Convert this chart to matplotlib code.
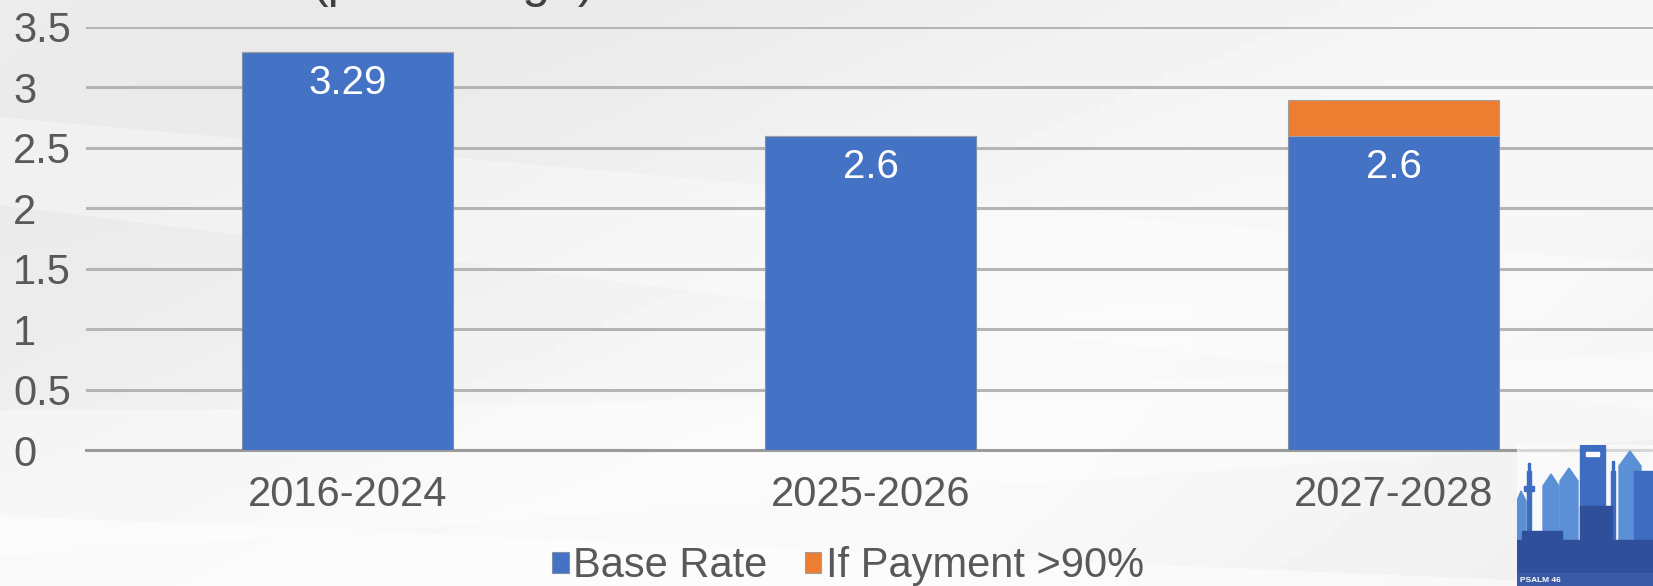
import numpy as np
import matplotlib.pyplot as plt
from matplotlib.patches import Rectangle, Polygon

plt.rcParams['font.family'] = ['Liberation Sans', 'DejaVu Sans']

# data
periods = ['2016-2024', '2025-2026', '2027-2028']
base_rate = [3.29, 2.6, 2.6]
extra_rate = [0, 0, 0.3]
base_labels = ['3.29', '2.6', '2.6']
yticks = [0, 0.5, 1, 1.5, 2, 2.5, 3, 3.5]
ytick_labels = ['0', '0.5', '1', '1.5', '2', '2.5', '3', '3.5']

blue = '#4472C4'
orange = '#ED7D31'
text_gray = '#595959'

fig = plt.figure(figsize=(16.53, 5.86), dpi=100)

# background: very light gray with soft white swooshes
bg = fig.add_axes([0, 0, 1, 1], zorder=-10)
gx, gy = np.meshgrid(np.linspace(0, 1, 200), np.linspace(0, 1, 80))
shade = 0.955 + 0.025 * np.sin(gx * 4.0 - gy * 2.5) - 0.015 * gy
bg.imshow(shade, cmap='gray', vmin=0, vmax=1, extent=[0, 1, 0, 1], aspect='auto', origin='lower')
t = np.linspace(0, 1, 100)
bg.fill_between(t, 0.05 + 0.2 * t, 0.3 + 0.1 * t**2, color='white', alpha=0.4, lw=0)
bg.fill_between(t, 0.65 - 0.35 * t, 0.8 - 0.25 * t, color='white', alpha=0.35, lw=0)
bg.fill_between(t, 0.0, 0.12 * (1 - t), color='white', alpha=0.5, lw=0)
bg.set_xlim(0, 1)
bg.set_ylim(0, 1)
bg.axis('off')

# clipped title (only descenders visible, as in the source slide)
fig.text(312 / 1653, 1 + 3 / 586, '(percentage)', fontsize=36, color='#404040', va='baseline', ha='left')

ax = fig.add_axes([86 / 1653, 1 - 450 / 586, 1569 / 1653, 423 / 586])
ax.patch.set_alpha(0)
x = np.arange(len(periods))
ax.bar(x, base_rate, width=0.405, color=blue, edgecolor='#7f8fa8', linewidth=0.8, zorder=3, label='Base Rate')
ax.bar(x, extra_rate, width=0.405, bottom=base_rate, color=orange, edgecolor='#a0a0a0', linewidth=0.8,
       zorder=3, label='If Payment >90%')
for xi, v, lab in zip(x, base_rate, base_labels):
    ax.text(xi, v - 0.255, lab, ha='center', va='center', color='white', fontsize=29, zorder=4)

ax.set_xlim(-0.5, 2.5)
ax.set_ylim(0, 3.5)
ax.set_yticks(yticks)
ax.set_yticklabels(ytick_labels, ha='left')
ax.yaxis.grid(True, color='#b5b5b5', linewidth=2.2, zorder=0)
ax.set_xticks(x)
ax.set_xticklabels(periods)
ax.tick_params(axis='both', length=0, labelsize=30, labelcolor=text_gray)
ax.tick_params(axis='x', pad=18)
ax.tick_params(axis='y', pad=(86 - 13) * 0.72)
for s in ['top', 'right', 'left']:
    ax.spines[s].set_visible(False)
ax.spines['bottom'].set_color('#9a9a9a')
ax.spines['bottom'].set_linewidth(2.2)

leg = fig.legend(loc='center', bbox_to_anchor=(848 / 1653, 1 - 566 / 586), ncol=2, frameon=False,
                 fontsize=30, handlelength=0.4, handleheight=0.4, handletextpad=0.1,
                 columnspacing=0.9, labelcolor=text_gray, borderpad=0)

# skyline logo in the corner
logo = fig.add_axes([1517 / 1653, 0, 136 / 1653, 141 / 586])
logo.set_xlim(0, 136)
logo.set_ylim(0, 141)
logo.axis('off')
logo.add_patch(Rectangle((0, 0), 136, 141, color='white', alpha=0.6, zorder=0))
light = '#5b8fd6'
mid = '#3d6cc0'
dark = '#2f4f9a'
logo.add_patch(Polygon([(0, 30), (0, 85), (4, 95), (9, 85), (9, 30)], color=light))
logo.add_patch(Rectangle((10, 30), 4, 85, color=mid))
logo.add_patch(Rectangle((7, 95), 10, 5, color=mid))
logo.add_patch(Rectangle((11, 115), 2, 8, color=mid))
logo.add_patch(Polygon([(26, 30), (26, 100), (34, 112), (42, 100), (42, 30)], color=light))
logo.add_patch(Polygon([(43, 30), (43, 105), (52, 118), (61, 105), (61, 30)], color=light))
logo.add_patch(Rectangle((63, 20), 25, 121, color=mid))
logo.add_patch(Rectangle((69, 130), 13, 4, color='white'))
logo.add_patch(Rectangle((94, 30), 4, 85, color=mid))
logo.add_patch(Rectangle((95, 115), 2, 10, color=mid))
logo.add_patch(Polygon([(102, 30), (102, 120), (113, 135), (124, 120), (124, 30)], color=light))
logo.add_patch(Rectangle((117, 30), 19, 85, color=mid))
logo.add_patch(Rectangle((0, 12), 136, 34, color=dark))
logo.add_patch(Rectangle((5, 40), 40, 15, color=dark))
logo.add_patch(Rectangle((63, 40), 32, 40, color=dark))
logo.add_patch(Rectangle((0, 0), 136, 13, color='#3a5aa6'))
logo.text(3, 6, 'PSALM 46', color='white', fontsize=6, fontweight='bold', va='center')

fig.savefig('out.png', dpi=100)
